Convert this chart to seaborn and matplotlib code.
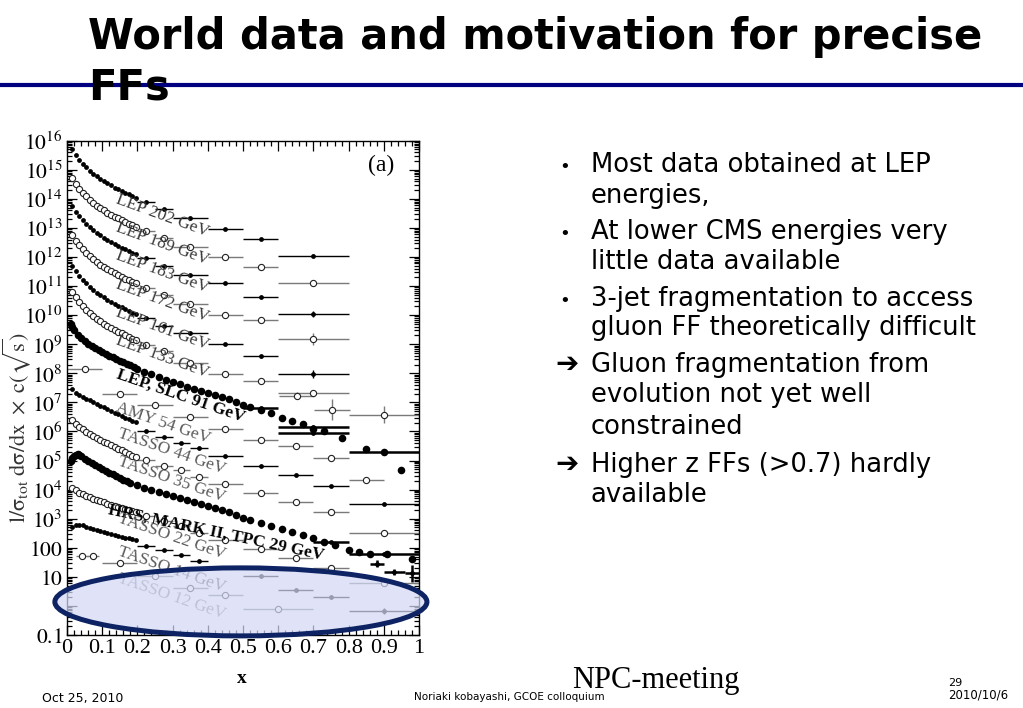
import matplotlib
matplotlib.use("Agg")
import matplotlib.pyplot as plt
import seaborn as sns
import numpy as np
import pandas as pd
from matplotlib.patches import Ellipse
from matplotlib.ticker import FixedLocator, FixedFormatter, LogLocator, NullFormatter, MultipleLocator

# ---- data (y values stored as log10) ----
DENSE_X = [0.015, 0.025, 0.035, 0.045, 0.055, 0.065, 0.075, 0.085, 0.095, 0.105,
           0.115, 0.125, 0.135, 0.145, 0.155, 0.165, 0.175, 0.185, 0.195]

LEP_BIN_X = [0.225, 0.275, 0.35, 0.45, 0.55, 0.70]
LEP_BIN_HW = [0.025, 0.025, 0.05, 0.05, 0.05, 0.10]
LOW_BIN_X = [0.225, 0.275, 0.325, 0.375, 0.45, 0.55, 0.65, 0.75, 0.90]
LOW_BIN_HW = [0.025, 0.025, 0.025, 0.025, 0.05, 0.05, 0.05, 0.05, 0.10]

lep202_dense = [15.70, 15.51, 15.35, 15.21, 15.09, 14.97, 14.87, 14.77, 14.69, 14.61,
                14.53, 14.46, 14.39, 14.33, 14.27, 14.21, 14.15, 14.09, 14.04]
lep202_bins = [13.88, 13.64, 13.35, 12.97, 12.62, 12.05]
lep202_dlog = [0, 0, 0, 0, 0, 0.05]

lep189_dense = [14.70, 14.51, 14.35, 14.21, 14.09, 13.97, 13.87, 13.77, 13.69, 13.61,
                13.53, 13.46, 13.39, 13.33, 13.27, 13.21, 13.15, 13.09, 13.04]
lep189_bins = [12.90, 12.67, 12.36, 12.00, 11.64, 11.10]
lep189_dlog = [0, 0, 0, 0, 0, 0.05]

lep183_dense = [13.75, 13.56, 13.40, 13.26, 13.14, 13.02, 12.92, 12.82, 12.74, 12.66,
                12.58, 12.51, 12.44, 12.38, 12.32, 12.26, 12.20, 12.14, 12.09]
lep183_bins = [11.96, 11.70, 11.39, 11.10, 10.64, 10.04]
lep183_dlog = [0, 0, 0, 0, 0, 0.12]

lep172_dense = [12.75, 12.56, 12.40, 12.26, 12.14, 12.02, 11.92, 11.82, 11.74, 11.66,
                11.58, 11.51, 11.44, 11.38, 11.32, 11.26, 11.20, 11.14, 11.09]
lep172_bins = [10.93, 10.68, 10.39, 10.00, 9.84, 9.18]
lep172_dlog = [0, 0, 0, 0, 0, 0.2]

lep161_dense = [11.70, 11.51, 11.35, 11.21, 11.09, 10.97, 10.87, 10.77, 10.69, 10.61,
                10.53, 10.46, 10.39, 10.33, 10.27, 10.21, 10.15, 10.09, 10.04]
lep161_bins = [9.90, 9.61, 9.38, 9.01, 8.58, 7.98]
lep161_dlog = [0, 0, 0, 0, 0.05, 0.15]

lep133_dense = [10.80, 10.61, 10.45, 10.31, 10.19, 10.07, 9.97, 9.87, 9.79, 9.71,
                9.63, 9.56, 9.49, 9.43, 9.37, 9.31, 9.25, 9.19, 9.14]
lep133_bin_x = [0.225, 0.275, 0.35, 0.45, 0.55, 0.70, 0.652, 0.753, 0.90]
lep133_bin_hw = [0.025, 0.025, 0.05, 0.05, 0.05, 0.10, 0.05, 0.05, 0.10]
lep133_bins = [8.98, 8.78, 8.37, 7.98, 7.72, 7.34, 7.23, 6.75, 6.58]
lep133_dlog = [0, 0.04, 0, 0, 0.04, 0.05, 0.12, 0.35, 0.3]

lep91_x = [0.010, 0.015, 0.020, 0.030, 0.040, 0.050, 0.060, 0.070, 0.080, 0.090,
           0.100, 0.110, 0.120, 0.130, 0.140, 0.150, 0.160, 0.170, 0.180, 0.190,
           0.200, 0.220, 0.240, 0.260, 0.280, 0.300, 0.320, 0.340, 0.360, 0.380,
           0.400, 0.420, 0.440, 0.460, 0.480, 0.500, 0.520, 0.550, 0.580, 0.610,
           0.640, 0.670, 0.700, 0.730, 0.780, 0.850, 0.900, 0.950]
lep91_log = [9.68, 9.58, 9.48, 9.33, 9.20, 9.10, 9.01, 8.94, 8.87, 8.80,
             8.73, 8.67, 8.61, 8.55, 8.49, 8.43, 8.38, 8.33, 8.27, 8.21,
             8.16, 8.06, 7.97, 7.88, 7.78, 7.70, 7.62, 7.54, 7.46, 7.38,
             7.31, 7.24, 7.17, 7.10, 7.01, 6.92, 6.84, 6.75, 6.64, 6.46,
             6.36, 6.25, 6.10, 6.00, 5.78, 5.40, 5.31, 4.69]
lep91_bin_x = [0.55, 0.70, 0.70, 0.90]
lep91_bin_hw = [0.05, 0.10, 0.10, 0.10]
lep91_bins = [6.80, 6.17, 5.94, 5.31]

amy54_x = [0.05, 0.15, 0.25, 0.35, 0.45, 0.55, 0.65, 0.75, 0.85]
amy54_hw = [0.05, 0.05, 0.05, 0.05, 0.05, 0.05, 0.05, 0.05, 0.05]
amy54_log = [8.14, 7.30, 6.92, 6.49, 6.08, 5.72, 5.49, 5.09, 4.34]

tasso44_dense = [7.45, 7.33, 7.25, 7.19, 7.13, 7.07, 7.01, 6.95, 6.89, 6.83,
                 6.77, 6.71, 6.65, 6.59, 6.53, 6.47, 6.42, 6.37, 6.32]
tasso44_bins = [6.02, 5.81, 5.62, 5.43, 5.16, 4.80, 4.51, 4.11, 3.52]

tasso35_dense = [6.38, 6.26, 6.16, 6.07, 5.99, 5.92, 5.85, 5.78, 5.71, 5.65,
                 5.59, 5.53, 5.47, 5.41, 5.35, 5.29, 5.23, 5.17, 5.11]
tasso35_bins = [5.03, 4.82, 4.66, 4.45, 4.20, 3.90, 3.56, 3.23, 2.51]

hrs29_x = [0.010, 0.015, 0.020, 0.025, 0.030, 0.035, 0.040, 0.050, 0.060, 0.070,
           0.080, 0.090, 0.100, 0.110, 0.120, 0.130, 0.140, 0.150, 0.160, 0.170,
           0.180, 0.200, 0.220, 0.240, 0.260, 0.280, 0.300, 0.320, 0.340, 0.360,
           0.380, 0.400, 0.420, 0.440, 0.460, 0.480, 0.500, 0.520, 0.550, 0.580,
           0.610, 0.640, 0.670, 0.700, 0.730, 0.760, 0.800, 0.830, 0.860, 0.910, 0.980]
hrs29_log = [5.00, 5.08, 5.15, 5.20, 5.21, 5.19, 5.15, 5.07, 4.99, 4.92,
             4.85, 4.78, 4.71, 4.64, 4.58, 4.52, 4.46, 4.40, 4.34, 4.29,
             4.24, 4.15, 4.07, 3.99, 3.92, 3.85, 3.78, 3.71, 3.64, 3.57,
             3.51, 3.44, 3.37, 3.30, 3.22, 3.13, 3.03, 2.95, 2.85, 2.75,
             2.65, 2.55, 2.44, 2.32, 2.20, 2.10, 1.93, 1.86, 1.77, 1.78, 1.60]
hrs29_bin_x = [0.75, 0.90, 0.88, 0.93, 0.98]
hrs29_bin_hw = [0.05, 0.10, 0.02, 0.03, 0.02]
hrs29_bins = [2.20, 1.80, 1.45, 1.16, 1.12]
hrs29_dlog = [0, 0, 0.12, 0.10, 0.30]

tasso22_dense = [4.05, 3.97, 3.90, 3.84, 3.79, 3.74, 3.69, 3.64, 3.60, 3.56,
                 3.52, 3.48, 3.44, 3.41, 3.37, 3.34, 3.30, 3.27, 3.24]
tasso22_bins = [3.10, 2.91, 2.74, 2.51, 2.28, 1.96, 1.65, 1.31, 0.79]

tasso14_dense = [2.72, 2.80, 2.80, 2.77, 2.73, 2.69, 2.65, 2.61, 2.57, 2.53,
                 2.50, 2.47, 2.44, 2.41, 2.38, 2.35, 2.33, 2.30, 2.28]
tasso14_bin_x = [0.225, 0.275, 0.325, 0.375, 0.55, 0.65, 0.75, 0.90]
tasso14_bin_hw = [0.025, 0.025, 0.025, 0.025, 0.05, 0.05, 0.05, 0.10]
tasso14_bins = [2.07, 1.91, 1.76, 1.53, 1.02, 0.56, 0.30, -0.18]
tasso14_dlog = [0, 0, 0, 0, 0, 0, 0, 0.1]

tasso12_x = [0.042, 0.075, 0.15, 0.25, 0.35, 0.45, 0.60]
tasso12_hw = [0.017, 0.017, 0.05, 0.05, 0.05, 0.05, 0.10]
tasso12_log = [1.70, 1.70, 1.46, 1.04, 0.62, 0.39, -0.09]

# curve labels: text, x, log10(y), rotation, colour, bold
curve_labels = [
    ("LEP 202 GeV", 0.272, 13.42, -20, "#3a3a3a", False),
    ("LEP 189 GeV", 0.272, 12.44, -20, "#3a3a3a", False),
    ("LEP 183 GeV", 0.272, 11.47, -20, "#3a3a3a", False),
    ("LEP 172 GeV", 0.272, 10.50, -20, "#3a3a3a", False),
    ("LEP 161 GeV", 0.272, 9.52, -20, "#3a3a3a", False),
    ("LEP 133 GeV", 0.272, 8.55, -20, "#3a3a3a", False),
    ("LEP, SLC 91 GeV", 0.322, 7.20, -19, "black", True),
    ("AMY 54 GeV", 0.274, 6.29, -19, "#5a5a5a", False),
    ("TASSO 44 GeV", 0.298, 5.31, -19, "#5a5a5a", False),
    ("TASSO 35 GeV", 0.298, 4.34, -19, "#5a5a5a", False),
    ("HRS, MARK II, TPC 29 GeV", 0.424, 2.52, -12, "black", True),
    ("TASSO 22 GeV", 0.298, 2.39, -19, "#5a5a5a", False),
    ("TASSO 14 GeV", 0.298, 1.25, -19, "#5a5a5a", False),
    ("TASSO 12 GeV", 0.298, 0.33, -19, "#8a8a8a", False),
]

Y_TICK_EXP = list(range(-1, 17))
Y_TICK_LABELS = ["$0.1$", "", "$10$", "$100$"] + ["$10^{%d}$" % e for e in range(3, 17)]
X_TICK_LABELS = ["0", "0.1", "0.2", "0.3", "0.4", "0.5", "0.6", "0.7", "0.8", "0.9", "1"]

TITLE_1 = "World data and motivation for precise"
TITLE_2 = "FFs"
BULLET_LINES = [
    ("\u2022", "Most data obtained at LEP", 171.7),
    (None, "energies,", 203.3),
    ("\u2022", "At lower CMS energies very", 239.3),
    (None, "little data available", 269.3),
    ("\u2022", "3-jet fragmentation to access", 306.0),
    (None, "gluon FF theoretically difficult", 335.0),
    ("\u2794", "Gluon fragmentation from", 371.7),
    (None, "evolution not yet well", 401.7),
    (None, "constrained", 434.0),
    ("\u2794", "Higher z FFs (>0.7) hardly", 471.7),
    (None, "available", 501.7),
]

W, H = 1023, 708


def pos(x, y):
    return x / W, 1 - y / H


def ten(logs):
    return np.power(10.0, np.asarray(logs, dtype=float))


series = [
    # name, filled, dense x, dense log, bin x, bin hw, bin log, bin dlog, band
    ("lep202", True, DENSE_X, lep202_dense, LEP_BIN_X, LEP_BIN_HW, lep202_bins, lep202_dlog, False),
    ("lep189", False, DENSE_X, lep189_dense, LEP_BIN_X, LEP_BIN_HW, lep189_bins, lep189_dlog, False),
    ("lep183", True, DENSE_X, lep183_dense, LEP_BIN_X, LEP_BIN_HW, lep183_bins, lep183_dlog, False),
    ("lep172", False, DENSE_X, lep172_dense, LEP_BIN_X, LEP_BIN_HW, lep172_bins, lep172_dlog, False),
    ("lep161", True, DENSE_X, lep161_dense, LEP_BIN_X, LEP_BIN_HW, lep161_bins, lep161_dlog, False),
    ("lep133", False, DENSE_X, lep133_dense, lep133_bin_x, lep133_bin_hw, lep133_bins, lep133_dlog, False),
    ("lep91", True, lep91_x, lep91_log, lep91_bin_x, lep91_bin_hw, lep91_bins, None, True),
    ("amy54", False, [], [], amy54_x, amy54_hw, amy54_log, None, False),
    ("tasso44", True, DENSE_X, tasso44_dense, LOW_BIN_X, LOW_BIN_HW, tasso44_bins, None, False),
    ("tasso35", False, DENSE_X, tasso35_dense, LOW_BIN_X, LOW_BIN_HW, tasso35_bins, None, False),
    ("hrs29", True, hrs29_x, hrs29_log, hrs29_bin_x, hrs29_bin_hw, hrs29_bins, hrs29_dlog, True),
    ("tasso22", False, DENSE_X, tasso22_dense, LOW_BIN_X, LOW_BIN_HW, tasso22_bins, None, False),
    ("tasso14", True, DENSE_X, tasso14_dense, tasso14_bin_x, tasso14_bin_hw, tasso14_bins, tasso14_dlog, False),
    ("tasso12", False, [], [], tasso12_x, tasso12_hw, tasso12_log, None, False),
]

rows = []
for name, filled, dx, dl, bx, bhw, bl, bd, band in series:
    kind = "band" if band else ("filled" if filled else "open")
    for x, l in zip(dx, dl):
        rows.append((name, kind, x, 10.0 ** l))
    for x, l in zip(bx, bl):
        rows.append((name, kind if not band else "filled", x, 10.0 ** l))
df = pd.DataFrame(rows, columns=["series", "kind", "x", "y"])

sns.set_style("ticks")
plt.rcParams["mathtext.fontset"] = "stix"
plt.rcParams["font.family"] = ["DejaVu Sans"]
plt.rcParams["text.color"] = "black"
plt.rcParams["axes.labelcolor"] = "black"
plt.rcParams["xtick.color"] = "black"
plt.rcParams["ytick.color"] = "black"

fig = plt.figure(figsize=(W / 100, H / 100), dpi=100)
fig.patch.set_facecolor("white")
ax = fig.add_axes([67 / W, 1 - 635 / H, 352 / W, 494.3 / H])

# error bars
for name, filled, dx, dl, bx, bhw, bl, bd, band in series:
    y = ten(bl)
    if bd is not None:
        d = np.asarray(bd, dtype=float)
        yerr = [y - y / 10 ** d, y * 10 ** d - y]
    else:
        yerr = None
    ax.errorbar(bx, y, xerr=bhw, yerr=yerr, fmt="none",
                ecolor="black" if filled else "#7a7a7a",
                elinewidth=1.8 if band else 1.0, capsize=0, zorder=2)

sns.scatterplot(data=df[df.kind == "band"], x="x", y="y", color="black", s=30,
                linewidth=0, marker="o", ax=ax, zorder=3, legend=False)
sns.scatterplot(data=df[df.kind == "filled"], x="x", y="y", color="black", s=12,
                linewidth=0, marker="o", ax=ax, zorder=3, legend=False)
sns.scatterplot(data=df[df.kind == "open"], x="x", y="y", color="white", s=20,
                edgecolor="#222222", linewidth=0.8, marker="o", ax=ax, zorder=4,
                legend=False)

ax.set_yscale("log")
ax.set_xlim(0, 1)
ax.set_ylim(0.1, 1e16)
ax.yaxis.set_major_locator(FixedLocator(ten(Y_TICK_EXP)))
ax.yaxis.set_major_formatter(FixedFormatter(Y_TICK_LABELS))
ax.yaxis.set_minor_locator(LogLocator(base=10, subs=np.arange(2, 10), numticks=40))
ax.yaxis.set_minor_formatter(NullFormatter())
ax.xaxis.set_major_locator(FixedLocator(np.linspace(0, 1, 11)))
ax.xaxis.set_major_formatter(FixedFormatter(X_TICK_LABELS))
ax.xaxis.set_minor_locator(MultipleLocator(0.02))
ax.tick_params(which="both", direction="in", top=True, right=True, colors="black",
               width=0.9)
ax.tick_params(which="major", length=7, labelsize=15.5, pad=3)
ax.tick_params(which="minor", length=3.5)
for lab in ax.get_xticklabels():
    lab.set_family("Liberation Serif")
    lab.set_fontsize(16)
for sp in ax.spines.values():
    sp.set_color("black")
    sp.set_linewidth(1.0)

ax.set_ylabel(r"$\mathrm{l/\sigma_{tot}\ d\sigma/dx\ \times\ c(\sqrt{s})}$",
              fontsize=16, color="#333333")
ax.yaxis.set_label_coords(-0.098, 0.42)
ax.set_xlabel("x", fontsize=14, fontweight="bold", family="Liberation Serif")
ax.xaxis.set_label_coords(0.497, -0.071)

for text, x, l, rot, col, bold in curve_labels:
    ax.text(x, 10 ** l, text, rotation=rot, rotation_mode="anchor", ha="center",
            va="center", fontsize=12.5, color=col, family="Liberation Serif",
            fontweight="bold" if bold else "normal", zorder=5)

ax.text(0.892, 0.949, "(a)", transform=ax.transAxes, ha="center", va="center",
        fontsize=17, family="Liberation Serif")

ell = Ellipse((0.494, 0.067), 1.057, 0.1376, transform=ax.transAxes,
              facecolor=(0.83, 0.85, 0.96, 0.72), edgecolor="#0d2363",
              linewidth=3.6, clip_on=False, zorder=10)
ax.add_patch(ell)

# slide title and rule
fig.add_artist(plt.Line2D([0, 1], [1 - 85 / H, 1 - 85 / H], color="#000080",
                          linewidth=3.0, transform=fig.transFigure, zorder=1))
fig.text(*pos(88, 48.5), TITLE_1, fontsize=30, fontweight="bold", va="baseline",
         ha="left", zorder=3, color="black")
fig.text(*pos(88, 100), TITLE_2, fontsize=30, fontweight="bold", va="baseline",
         ha="left", zorder=3, color="black")

# bullet text
for mark, text, yb in BULLET_LINES:
    if mark == "\u2022":
        fig.text(*pos(559, yb), mark, fontsize=13, va="baseline", ha="left")
    elif mark is not None:
        fig.text(*pos(555, yb), mark, fontsize=20, va="baseline", ha="left",
                 fontweight="bold")
    fig.text(*pos(591, yb), text, fontsize=18.6, va="baseline", ha="left")

# footer
fig.text(*pos(656, 688), "NPC-meeting", fontsize=22, family="Liberation Serif",
         ha="center", va="baseline")
fig.text(*pos(948, 686), "29", fontsize=8, ha="left", va="baseline")
fig.text(*pos(948, 698), "2010/10/6", fontsize=8.5, ha="left", va="baseline")
fig.text(*pos(42, 702), "Oct 25, 2010", fontsize=9, ha="left", va="baseline")
fig.text(*pos(509, 700), "Noriaki kobayashi, GCOE colloquium", fontsize=7.5,
         ha="center", va="baseline")

fig.savefig("out.png", dpi=100, facecolor="white")
